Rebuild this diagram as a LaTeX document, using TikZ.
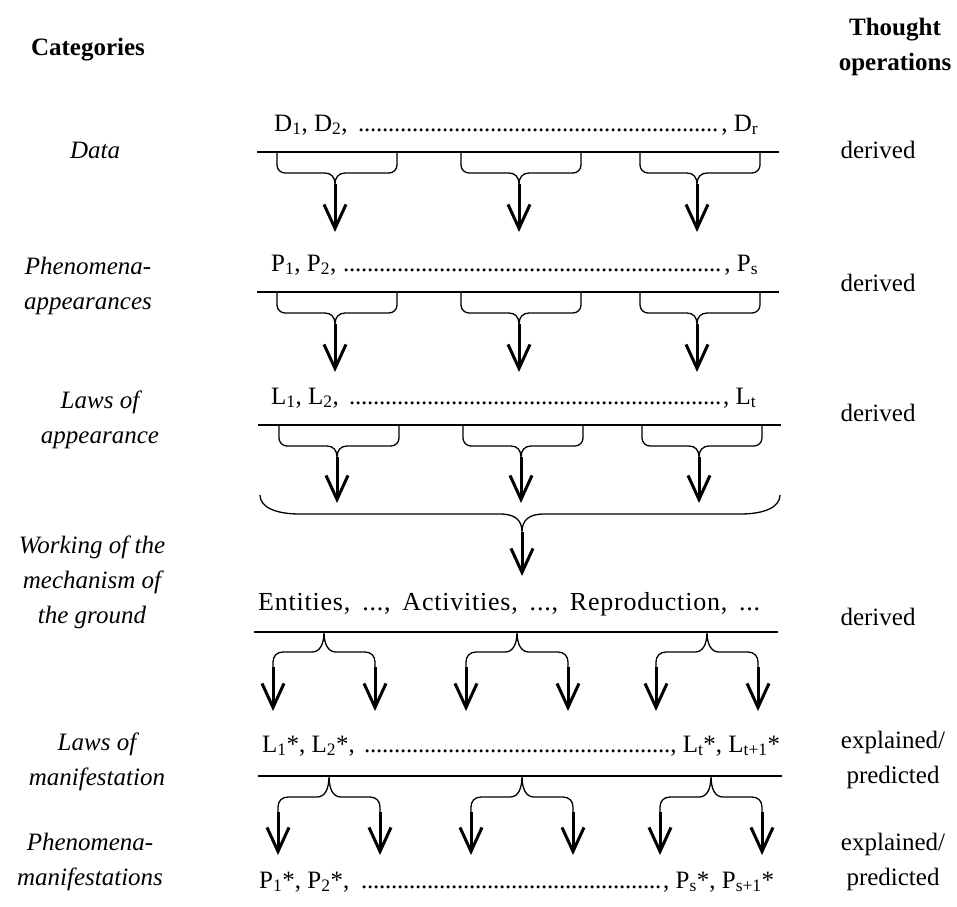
\documentclass[tikz,border=0pt]{standalone}
\usepackage{fontspec}
\setmainfont{Liberation Serif}
\usetikzlibrary{arrows.meta}
\newcommand\dotrun{\leaders\hbox to 6pt{\hss.\hss}\hfill}
% down brace: name, L, C, R, line y, flat y, tip y
\newcommand\dnbrace[7]{%
  \draw[brc] (#2,#5) -- (#2,#6-8) .. controls (#2,#6-3.6) and (#2+3.6,#6) .. (#2+8,#6)
    -- (#3-10,#6) .. controls (#3-4,#6) and (#3,#6+4) .. (#3,#6+11)
    .. controls (#3,#6+4) and (#3+4,#6) .. (#3+10,#6)
    -- (#4-8,#6) .. controls (#4-3.6,#6) and (#4,#6-3.6) .. (#4,#6-8) -- (#4,#5);
  \coordinate (#1c) at (#3,#6+11);
  \coordinate (#1t) at (#3,#7);
  \draw[arr] (#1c) -- (#1t);}
% up brace: name, C, half width, line y, flat y, tip y
\newcommand\upbrace[6]{%
  \draw[brc] (#2-#3,#5+16) -- (#2-#3,#5+10) .. controls (#2-#3,#5+4) and (#2-#3+4,#5) .. (#2-#3+10,#5)
    -- (#2-12,#5) .. controls (#2-4,#5) and (#2,#5-8) .. (#2,#4)
    .. controls (#2,#5-8) and (#2+4,#5) .. (#2+12,#5)
    -- (#2+#3-10,#5) .. controls (#2+#3-4,#5) and (#2+#3,#5+4) .. (#2+#3,#5+10) -- (#2+#3,#5+16);
  \coordinate (#1a) at (#2-#3,#5+15);
  \coordinate (#1b) at (#2+#3,#5+15);
  \coordinate (#1at) at (#2-#3,#6);
  \coordinate (#1bt) at (#2+#3,#6);
  \draw[arr] (#1a) -- (#1at);
  \draw[arr] (#1b) -- (#1bt);}
\tikzset{
  brc/.style={line width=1.3pt},
  rule/.style={line width=1.3pt},
  arr/.style={line width=3pt, -{Straight Barb[length=24pt,width=22pt]}},
  cat/.style={font=\fontsize{25}{35}\selectfont\itshape, align=center, inner sep=0pt},
  op/.style={font=\fontsize{25}{35}\selectfont, align=center, inner sep=0pt},
  hd/.style={font=\fontsize{25}{35}\selectfont\bfseries, align=center, inner sep=0pt},
  row/.style={font=\fontsize{25}{35}\selectfont, anchor=base west, inner sep=0pt},
}
\begin{document}
\begin{tikzpicture}[x=1pt,y=-1pt]
\useasboundingbox (0,0) rectangle (957,906);
% headings
\node[hd] (hcat) at (88,50) {Categories};
\node[hd] (hops) at (895,47) {Thought\\operations};
% category labels
\node[cat] (c1) at (95,150) {Data};
\node[cat] (c2) at (88,286) {Phenomena-\\appearances};
\node[cat] (c3) at (100,420) {Laws of\\appearance};
\node[cat] (c4) at (92,582) {Working of the\\mechanism of\\the ground};
\node[cat] (c5) at (97,762) {Laws of\\manifestation};
\node[cat] (c6) at (90,862) {Phenomena-\\manifestations};
% operations
\node[op] (o1) at (878,150) {derived};
\node[op] (o2) at (878,283) {derived};
\node[op] (o3) at (878,413) {derived};
\node[op] (o4) at (878,617) {derived};
\node[op] (o5) at (893,760) {explained/\\predicted};
\node[op] (o6) at (893,862) {explained/\\predicted};
% rows of text
\node[row] (r1) at (274,131) {\hbox to 484pt{D\textsubscript{1}, D\textsubscript{2}, \dotrun, D\textsubscript{r}}};
\node[row] (r2) at (271,271) {\hbox to 487pt{P\textsubscript{1}, P\textsubscript{2}, \dotrun, P\textsubscript{s}}};
\node[row] (r3) at (271,404) {\hbox to 485pt{L\textsubscript{1}, L\textsubscript{2}, \dotrun, L\textsubscript{t}}};
\node[font=\fontsize{26}{35}\selectfont, anchor=base west, inner sep=0pt] (r4) at (258,610) {\addfontfeature{LetterSpace=3}\hbox to 502pt{Entities, ..., Activities, ..., Reproduction, ...}};
\node[row] (r5) at (262,752) {\hbox to 518pt{L\textsubscript{1}*, L\textsubscript{2}*, \dotrun, L\textsubscript{t}*, L\textsubscript{t+1}*}};
\node[row] (r6) at (259,888) {\hbox to 515pt{P\textsubscript{1}*, P\textsubscript{2}*, \dotrun, P\textsubscript{s}*, P\textsubscript{s+1}*}};
% rules
\coordinate (l1a) at (257,152); \coordinate (l1b) at (779,152);
\coordinate (l2a) at (257,292); \coordinate (l2b) at (779,292);
\coordinate (l3a) at (258,425); \coordinate (l3b) at (781,425);
\coordinate (l4a) at (254,632); \coordinate (l4b) at (778,632);
\coordinate (l5a) at (258,776); \coordinate (l5b) at (782,776);
\draw[rule] (l1a) -- (l1b);
\draw[rule] (l2a) -- (l2b);
\draw[rule] (l3a) -- (l3b);
\draw[rule] (l4a) -- (l4b);
\draw[rule] (l5a) -- (l5b);
% braces rows 1-3
\dnbrace{a1}{277}{335}{397}{152}{173}{232}
\dnbrace{a2}{461}{519}{581}{152}{173}{232}
\dnbrace{a3}{640}{697}{760}{152}{173}{232}
\dnbrace{b1}{277}{335}{397}{292}{313}{372}
\dnbrace{b2}{461}{519}{581}{292}{313}{372}
\dnbrace{b3}{640}{697}{760}{292}{313}{372}
\dnbrace{d1}{279}{337}{399}{425}{446}{503}
\dnbrace{d2}{463}{521}{583}{425}{446}{503}
\dnbrace{d3}{642}{699}{762}{425}{446}{503}
% big brace
\draw[brc] (260,495) .. controls (260,507) and (275,514) .. (300,514) -- (500,514)
  .. controls (515,514) and (522,520) .. (522,532)
  .. controls (522,520) and (529,514) .. (544,514) -- (740,514)
  .. controls (765,514) and (780,507) .. (780,495);
\coordinate (bigc) at (522,532);
\coordinate (bigt) at (522,576);
\draw[arr] (bigc) -- (bigt);
% up braces rows 5-6
\upbrace{e1}{324}{51}{632}{652}{711}
\upbrace{e2}{517}{51}{632}{652}{711}
\upbrace{e3}{707}{51}{632}{652}{711}
\upbrace{f1}{329}{51}{776}{797}{855}
\upbrace{f2}{522}{51}{776}{797}{855}
\upbrace{f3}{711}{51}{776}{797}{855}
\end{tikzpicture}
\end{document}
